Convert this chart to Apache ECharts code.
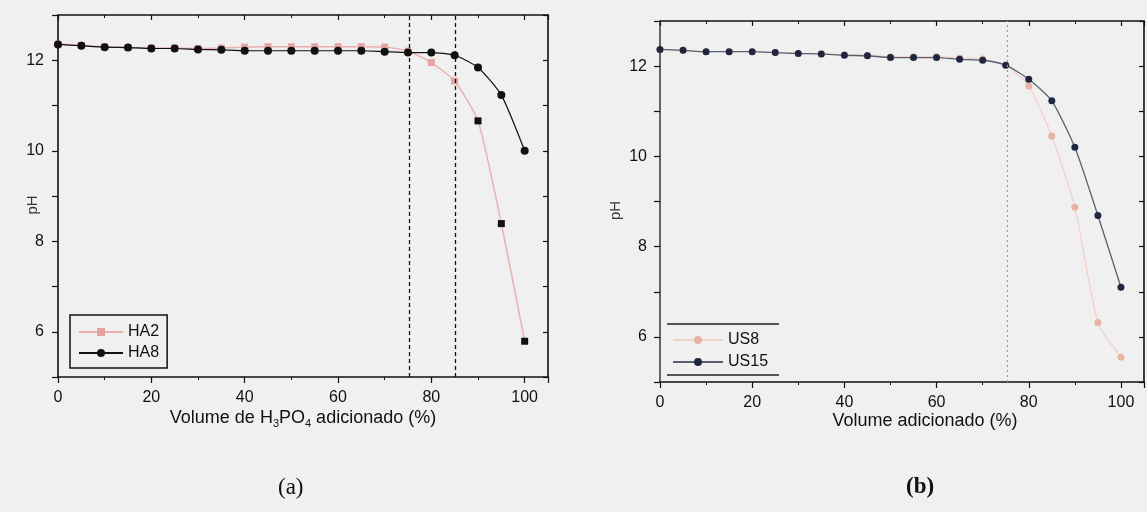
<!DOCTYPE html>
<html>
<head>
<meta charset="utf-8">
<script src="https://cdn.jsdelivr.net/npm/echarts@6/dist/echarts.min.js"></script>
<style>
  html, body { margin: 0; padding: 0; background: #f0f0f0; }
  #chart { width: 1147px; height: 512px; }
</style>
</head>
<body>
<div id="chart"></div>
<script>
// volume adicionado (%)
const volumes = [0, 5, 10, 15, 20, 25, 30, 35, 40, 45, 50, 55, 60, 65, 70, 75, 80, 85, 90, 95, 100];

// (a) H3PO4
const ha2 = [12.36, 12.33, 12.30, 12.28, 12.27, 12.27, 12.26, 12.27, 12.29, 12.30, 12.30, 12.30, 12.30, 12.30, 12.29, 12.20, 11.95, 11.54, 10.66, 8.39, 5.79];
const ha8 = [12.35, 12.32, 12.29, 12.28, 12.26, 12.26, 12.24, 12.23, 12.21, 12.21, 12.21, 12.21, 12.21, 12.21, 12.19, 12.17, 12.17, 12.11, 11.84, 11.23, 10.00];
const dropLinesA = [75.3, 85.2];

// (b)
const us8 = [12.37, 12.35, 12.32, 12.32, 12.32, 12.30, 12.28, 12.27, 12.25, 12.24, 12.21, 12.21, 12.21, 12.18, 12.16, 12.02, 11.56, 10.45, 8.87, 6.32, 5.55];
const us15 = [12.37, 12.35, 12.32, 12.32, 12.32, 12.30, 12.28, 12.27, 12.24, 12.23, 12.19, 12.19, 12.19, 12.15, 12.13, 12.02, 11.71, 11.23, 10.20, 8.69, 7.10];
const dropLinesB = [75.3];

const yLabels = [6, 8, 10, 12];

const font = 'Liberation Sans, Arial, sans-serif';
const ink = '#111';

function pairs(ys) {
    return volumes.map(function (v, i) { return [v, ys[i]]; });
}

function xBottom(grid, name, nameStyle) {
    return {
        type: 'value', gridIndex: grid, position: 'bottom',
        min: 0, max: 105, interval: 20,
        axisLine: { onZero: false, lineStyle: { color: ink, width: 1.6 } },
        axisTick: { length: 6, lineStyle: { color: ink, width: 1.2 } },
        minorTick: { show: true, splitNumber: 2, length: 3, lineStyle: { color: ink, width: 1 } },
        splitLine: { show: false },
        axisLabel: {
            fontFamily: font, fontSize: 16, color: ink, margin: 13,
            formatter: function (v) { return v > 100 ? '' : v; }
        },
        name: name, nameLocation: 'middle', nameGap: 30, nameMoveOverlap: false,
        nameTextStyle: nameStyle
    };
}

function xTop(grid) {
    return {
        type: 'value', gridIndex: grid, position: 'top',
        min: 0, max: 105, interval: 20,
        axisLine: { onZero: false, lineStyle: { color: ink, width: 1.6 } },
        axisTick: { inside: true, length: 5, lineStyle: { color: ink, width: 1.2 } },
        minorTick: { show: true, splitNumber: 2, length: 3, lineStyle: { color: ink } },
        splitLine: { show: false },
        axisLabel: { show: false }
    };
}

function yLeft(grid, gap, lineColor, margin) {
    return {
        type: 'value', gridIndex: grid, position: 'left',
        min: 5, max: 13, interval: 1,
        axisLine: { show: true, onZero: false, lineStyle: { color: lineColor, width: 1.6 } },
        axisTick: { show: true, length: 6, lineStyle: { color: ink, width: 1.2 } },
        splitLine: { show: false },
        axisLabel: {
            fontFamily: font, fontSize: 16, color: ink, margin: margin,
            formatter: function (v) { return yLabels.indexOf(v) >= 0 ? v : ''; }
        },
        name: 'pH', nameLocation: 'middle', nameGap: gap, nameRotate: 90, nameMoveOverlap: false,
        nameTextStyle: { fontFamily: font, fontSize: 15, color: '#333', padding: [0, 0, 0, -18] }
    };
}

function yRight(grid) {
    return {
        type: 'value', gridIndex: grid, position: 'right',
        min: 5, max: 13, interval: 1,
        axisLine: { show: true, onZero: false, lineStyle: { color: ink, width: 1.6 } },
        axisTick: { show: true, inside: true, length: 5, lineStyle: { color: ink, width: 1.2 } },
        splitLine: { show: false },
        axisLabel: { show: false }
    };
}

const chart = echarts.init(document.getElementById('chart'));

const option = {
    animation: false,
    backgroundColor: '#f0f0f0',
    grid: [
        { left: 58, top: 15, width: 490, height: 362 },
        { left: 660, top: 21, width: 495, height: 361 }
    ],
    xAxis: [
        xBottom(0, 'Volume de H{s|3}PO{s|4} adicionado (%)', {
            fontFamily: font, fontSize: 18, color: ink, lineHeight: 22,
            rich: { s: { fontFamily: font, fontSize: 11, verticalAlign: 'bottom', lineHeight: 22, color: ink } }
        }),
        xTop(0),
        xBottom(1, 'Volume adicionado (%)', {
            fontFamily: font, fontSize: 18, color: ink, padding: [0, 0, 0, 46]
        }),
        xTop(1)
    ],
    yAxis: [
        yLeft(0, 18, ink, 14),
        yRight(0),
        yLeft(1, 37, '#444', 13),
        yRight(1)
    ],
    legend: [
        {
            data: [{ name: 'HA2', itemStyle: { color: '#e7a3a3' } }, 'HA8'],
            left: 70, top: 315, orient: 'vertical',
            itemWidth: 44, itemHeight: 10, itemGap: 5,
            padding: [9, 8, 7, 8],
            borderColor: ink, borderWidth: 1.5,
            backgroundColor: '#f0f0f0',
            textStyle: { fontFamily: font, fontSize: 16, color: ink }
        },
        {
            data: ['US8', 'US15'],
            left: 667, top: 324, orient: 'vertical',
            itemWidth: 50, itemHeight: 10, itemGap: 6,
            padding: [8, 5, 6, 5],
            textStyle: { fontFamily: font, fontSize: 16, color: ink }
        }
    ],
    graphic: [
        { type: 'line', shape: { x1: 667, y1: 324, x2: 779, y2: 324 }, style: { stroke: '#222', lineWidth: 1.6 } },
        { type: 'line', shape: { x1: 667, y1: 375, x2: 779, y2: 375 }, style: { stroke: '#222', lineWidth: 1.6 } },
        { type: 'text', left: 278, top: 476, style: { text: '(a)', font: '23px Liberation Serif, Times New Roman, serif', fill: ink } },
        { type: 'text', left: 906, top: 476, style: { text: '(b)', font: 'bold 23px Liberation Serif, Times New Roman, serif', fill: ink } }
    ],
    series: [
        {
            name: 'HA2', type: 'line', xAxisIndex: 0, yAxisIndex: 0,
            data: pairs(ha2), smooth: 0.2,
            symbol: 'rect', symbolSize: 7,
            lineStyle: { color: '#ecb0b0', width: 1.5 },
            itemStyle: { color: function (p) { return p.value[0] >= 90 ? '#111' : '#e7a3a3'; } }
        },
        {
            name: 'HA8', type: 'line', xAxisIndex: 0, yAxisIndex: 0,
            data: pairs(ha8), smooth: 0.2,
            symbol: 'circle', symbolSize: 8,
            lineStyle: { color: ink, width: 1.2 },
            itemStyle: { color: ink },
            markLine: {
                silent: true, symbol: 'none', label: { show: false },
                lineStyle: { color: ink, type: [4, 3], width: 1.3 },
                data: dropLinesA.map(function (v) { return { xAxis: v }; })
            }
        },
        {
            name: 'US8', type: 'line', xAxisIndex: 2, yAxisIndex: 2,
            data: pairs(us8), smooth: 0.2,
            symbol: 'circle', symbolSize: 7,
            lineStyle: { color: '#f2d2c6', width: 1.3 },
            itemStyle: { color: '#e8b3a3' }
        },
        {
            name: 'US15', type: 'line', xAxisIndex: 2, yAxisIndex: 2,
            data: pairs(us15), smooth: 0.2,
            symbol: 'circle', symbolSize: 7,
            lineStyle: { color: '#5a6070', width: 1.3 },
            itemStyle: { color: '#1f2740' },
            markLine: {
                silent: true, symbol: 'none', label: { show: false },
                lineStyle: { color: '#9a9a9a', type: [2, 3], width: 1.2 },
                data: dropLinesB.map(function (v) { return { xAxis: v }; })
            }
        }
    ]
};

chart.setOption(option);
</script>
</body>
</html>
